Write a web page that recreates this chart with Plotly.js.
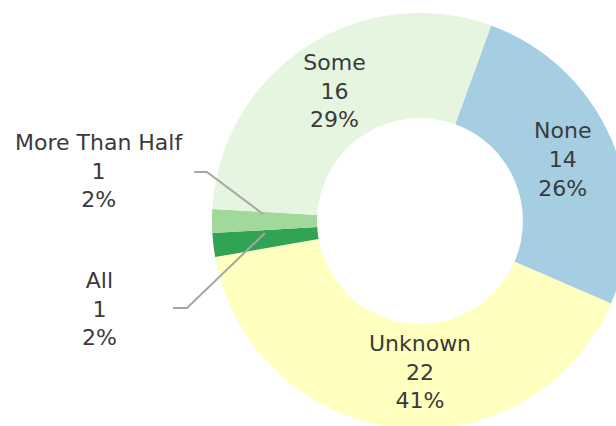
<!DOCTYPE html>
<html>
<head>
<meta charset="utf-8">
<script src="https://cdn.plot.ly/plotly-3.0.1.min.js"></script>
<style>
html,body{margin:0;padding:0;overflow:hidden;width:616px;height:426px;background:#fff;}
#chart{width:840px;height:442px;}
</style>
</head>
<body>
<div id="chart"></div>
<script>
// Data
var categories = ['None', 'Unknown', 'All', 'More Than Half', 'Some'];
var counts = [14, 22, 1, 1, 16];
var pctLabels = ['26%', '41%', '2%', '2%', '29%'];
var colors = ['#A6CEE3', '#FFFFBF', '#31A354', '#A1D99B', '#E5F5E0'];

var W = 840, H = 442;
function px(x){ return x / W; }
function py(y){ return 1 - y / H; }

var textColor = '#3A3A3A';
var fontFam = 'DejaVu Sans, sans-serif';
var fontSize = 22;

var texts = categories.map(function(c, i){ return c + '<br>' + counts[i] + '<br>' + pctLabels[i]; });
var textpos = counts.map(function(v){ return v > 2 ? 'inside' : 'none'; });

var trace = {
  type: 'pie',
  labels: categories,
  values: counts,
  text: texts,
  textinfo: 'text',
  textposition: textpos,
  insidetextorientation: 'horizontal',
  hole: 0.495,
  sort: false,
  direction: 'clockwise',
  rotation: 20,
  marker: {colors: colors, line: {width: 0}},
  textfont: {family: fontFam, size: fontSize, color: textColor},
  domain: {x: [0, 1], y: [0.0294, 0.9706]},
  showlegend: false,
  hoverinfo: 'label+value+percent'
};

// Outside labels for the small slices
var outsideIdx = [3, 2];
var labelPos = [[99, 171], [99, 309]];
var annotations = outsideIdx.map(function(i, k){
  return {
    xref: 'paper', yref: 'paper',
    x: px(labelPos[k][0]), y: py(labelPos[k][1]),
    text: texts[i], showarrow: false,
    xanchor: 'center', yanchor: 'middle', align: 'center',
    font: {family: fontFam, size: fontSize, color: textColor}
  };
});

var leaders = [
  [[194, 172], [207, 172], [263, 214]],
  [[173, 308], [187, 308], [265, 233]]
];
var shapes = leaders.map(function(pts){
  var d = 'M' + pts.map(function(p){ return px(p[0]) + ',' + py(p[1]); }).join(' L');
  return {type: 'path', xref: 'paper', yref: 'paper', path: d,
          line: {color: '#A6A6A6', width: 2}};
});

var layout = {
  width: W, height: H,
  margin: {l: 0, r: 0, t: 0, b: 0},
  paper_bgcolor: '#fff',
  plot_bgcolor: '#fff',
  annotations: annotations,
  shapes: shapes,
  showlegend: false
};

Plotly.newPlot('chart', [trace], layout, {staticPlot: true});
</script>
</body>
</html>
